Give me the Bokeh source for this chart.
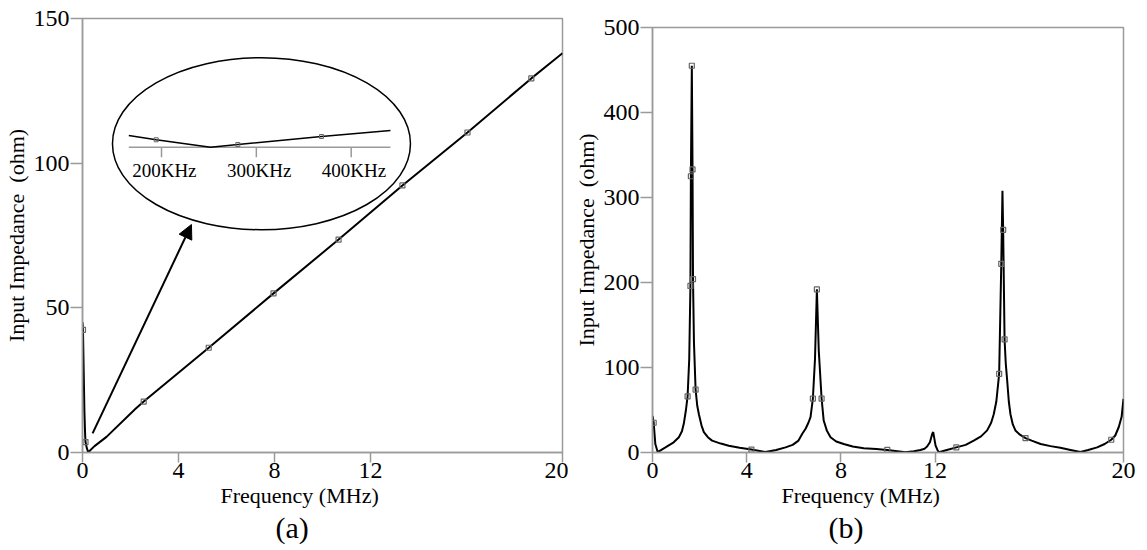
from bokeh.plotting import figure
from bokeh.layouts import row, column
from bokeh.models import Range1d, FixedTicker, Arrow, NormalHead, Title, Spacer
from bokeh.core.properties import value
from bokeh.embed import file_html
from bokeh.resources import INLINE

# ---------------- data ----------------
# (a) main curve
a_freq = [0.0, 0.02, 0.05, 0.08, 0.11, 0.125, 0.18, 0.24, 0.5, 1.0, 2.21, 2.55, 5.26,
          7.96, 10.67, 13.33, 16.04, 18.7, 20.0]
a_imp = [45.0, 42.4, 28.0, 14.0, 6.0, 3.6, 1.5, 0.1, 2.2, 5.4, 15.1, 17.6, 36.2,
         55.0, 73.6, 92.3, 110.6, 129.3, 138.0]
a_mark_freq = [0.02, 0.125, 2.55, 5.26, 7.96, 10.67, 13.33, 16.04, 18.7]
a_mark_imp = [42.4, 3.6, 17.6, 36.2, 55.0, 73.6, 92.3, 110.6, 129.3]

# (a) inset (KHz, ohm)
inset_freq = [165.5, 194.4, 251.7, 280.5, 368.7, 441.4]
inset_imp = [1.46, 0.93, 0.0, 0.34, 1.34, 2.09]
inset_mark_freq = [194.4, 280.5, 368.7]
inset_mark_imp = [0.93, 0.34, 1.34]
inset_ticks = [200, 300, 400]
inset_tick_labels = ["200KHz", "300KHz", "400KHz"]

# (b) curve
b_freq = [0.0, 0.05, 0.12, 0.22, 0.55, 0.9, 1.12, 1.25, 1.33, 1.42, 1.49, 1.56, 1.61,
          1.63, 1.67, 1.70, 1.72, 1.76, 1.83, 1.90, 1.97, 2.08, 2.18, 2.35, 2.53, 2.9,
          3.24, 3.7, 4.2, 4.8, 5.25, 5.65, 5.95, 6.2, 6.36, 6.5, 6.62, 6.71, 6.81, 6.9,
          6.98, 7.06, 7.18, 7.27, 7.4, 7.56, 7.8, 8.12, 8.5, 8.97, 9.5, 9.97, 10.4,
          10.74, 11.1, 11.38, 11.55, 11.66, 11.78, 11.88, 11.92, 11.97, 12.02, 12.1,
          12.16, 12.5, 12.9, 13.3, 13.64, 13.95, 14.21, 14.38, 14.49, 14.6, 14.72,
          14.81, 14.86, 14.89, 14.95, 15.0, 15.06, 15.13, 15.2, 15.3, 15.41, 15.6,
          15.84, 16.1, 16.48, 16.9, 17.32, 17.75, 18.17, 18.5, 18.88, 19.2, 19.48,
          19.65, 19.8, 19.92, 20.0]
b_imp = [43, 35, 10, 0.5, 6, 12, 18, 25, 34, 50, 66, 110, 196,
         325, 455, 333, 204, 130, 74, 55, 45, 32, 24, 18, 14, 10.5,
         8, 5.5, 3.5, 0.5, 3, 6, 9, 14, 22, 28, 35, 41.5, 63.5, 110,
         192, 120, 63.5, 37.6, 26, 18, 13, 10, 7, 5, 4, 3, 1.5,
         0.3, 1.5, 3, 4.5, 7, 12, 22, 24, 16, 8, 3,
         0.3, 3, 6, 9, 14, 19, 26, 35, 45, 60, 92.6,
         222, 308, 262, 133, 105, 85, 60, 45, 33, 26, 21,
         17, 14, 10, 7.5, 5.5, 3, 0.5, 3, 6, 10, 15,
         20, 30, 42, 63]
b_mark_freq = [0.05, 1.49, 1.61, 1.63, 1.67, 1.70, 1.72, 1.83, 4.2, 6.81, 6.98, 7.18,
               9.97, 12.9, 14.72, 14.81, 14.89, 14.95, 15.84, 19.48]
b_mark_imp = [35, 66, 196, 325, 455, 333, 204, 74, 3.5, 63.5, 192, 63.5,
              3, 6, 92.6, 222, 262, 133, 17, 15]

x_ticks = [0, 4, 8, 12, 20]
a_y_ticks = [0, 50, 100, 150]
b_y_ticks = [0, 100, 200, 300, 400, 500]

# ---------------- style ----------------
SERIF = "Liberation Serif"
AX_GRAY = "#9a9a9a"
MARK_GRAY = "#666666"


def style(p, yticks, xlabel_offset, caption, caption_offset):
    p.xgrid.visible = False
    p.ygrid.visible = False
    p.outline_line_color = AX_GRAY
    p.outline_line_width = 1.5
    p.xaxis.ticker = FixedTicker(ticks=x_ticks)
    p.yaxis.ticker = FixedTicker(ticks=yticks)
    for ax in (p.xaxis[0], p.yaxis[0]):
        ax.axis_line_color = AX_GRAY
        ax.axis_line_width = 1.5
        ax.major_tick_line_color = AX_GRAY
        ax.major_tick_line_width = 1.5
        ax.major_tick_in = 0
        ax.minor_tick_line_color = None
        ax.major_label_text_font = SERIF
        ax.major_label_text_font_size = "24px"
        ax.major_label_text_color = "black"
        ax.axis_label_text_font = SERIF
        ax.axis_label_text_font_size = "22px"
        ax.axis_label_text_font_style = "normal"
        ax.axis_label_text_color = "black"
    p.xaxis.major_tick_out = 10
    p.yaxis.major_tick_out = 12
    p.xaxis.major_label_standoff = 0
    p.yaxis.major_label_standoff = 1
    p.yaxis.axis_label_standoff = 2
    p.yaxis.axis_label = "Input Impedance\u00a0 (ohm)"
    p.add_layout(Title(text="Frequency (MHz)", align="left", offset=xlabel_offset,
                       standoff=0, text_font=SERIF, text_font_size="22px",
                       text_font_style="normal", text_color="black"), "below")
    p.add_layout(Title(text=caption, align="left", offset=caption_offset, standoff=2,
                       text_font=SERIF, text_font_size="30px",
                       text_font_style="normal", text_color="black"), "below")


# ---------------- (a) ----------------
pa = figure(width=568, height=550, x_range=Range1d(0, 20), y_range=Range1d(0, 150),
            output_backend="svg", toolbar_location=None,
            min_border_left=82, min_border_right=6, min_border_top=18, min_border_bottom=98)
style(pa, a_y_ticks, 138, "(a)", 193)
pa.line(a_freq, a_imp, line_color="black", line_width=2)
pa.scatter(a_mark_freq, a_mark_imp, marker="square", size=5, fill_alpha=0,
           line_color=MARK_GRAY, line_width=1.2)

# inset drawn in its own (KHz, ohm) ranges
pa.extra_x_ranges = {"ix": Range1d(116.7, 622.8)}
pa.extra_y_ranges = {"iy": Range1d(-38.16, 16.09)}
pa.ellipse(x=[305.4], y=[0.44], width=298, height=172, width_units="screen",
           height_units="screen", fill_color="white", line_color="black", line_width=1.5,
           x_range_name="ix", y_range_name="iy")
pa.segment(x0=[inset_freq[0]], y0=[0], x1=[inset_freq[-1]], y1=[0], line_color=AX_GRAY,
           line_width=1.5, x_range_name="ix", y_range_name="iy")
pa.segment(x0=inset_ticks, y0=[0] * 3, x1=inset_ticks, y1=[-1.25] * 3, line_color=AX_GRAY,
           line_width=1.5, x_range_name="ix", y_range_name="iy")
pa.text(x=[t + 3 for t in inset_ticks], y=[-2.9] * 3, text=inset_tick_labels,
        text_align="center", text_baseline="middle", text_font=value(SERIF),
        text_font_size="19px", text_color="black", x_range_name="ix", y_range_name="iy")
pa.line(inset_freq, inset_imp, line_color="black", line_width=1.6,
        x_range_name="ix", y_range_name="iy")
pa.scatter(inset_mark_freq, inset_mark_imp, marker="square", size=4, fill_alpha=0,
           line_color=MARK_GRAY, line_width=1, x_range_name="ix", y_range_name="iy")

pa.add_layout(Arrow(end=NormalHead(size=14, fill_color="black", line_color="black"),
                    x_start=0.42, y_start=6.6, x_end=4.54, y_end=78.8,
                    line_color="black", line_width=2))

# ---------------- (b) ----------------
pb = figure(width=579, height=541, x_range=Range1d(0, 20), y_range=Range1d(0, 500),
            output_backend="svg", toolbar_location=None,
            min_border_left=84, min_border_right=24, min_border_top=18, min_border_bottom=98)
style(pb, b_y_ticks, 129, "(b)", 176)
pb.line(b_freq, b_imp, line_color="black", line_width=2)
pb.scatter(b_mark_freq, b_mark_imp, marker="square", size=5, fill_alpha=0,
           line_color=MARK_GRAY, line_width=1.2)

layout = row(pa, column(Spacer(width=579, height=9), pb))
open("out.html", "w").write(file_html(layout, INLINE))
